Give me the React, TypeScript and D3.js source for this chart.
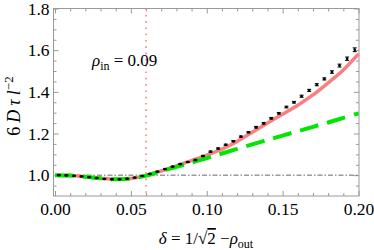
import { useEffect, useRef } from 'react';
import * as d3 from 'd3';

// theory curves
const curveX = [0, 0.01, 0.02, 0.03, 0.04, 0.05, 0.06, 0.07, 0.08, 0.09, 0.1, 0.11, 0.12, 0.13, 0.14, 0.15, 0.16, 0.17, 0.18, 0.19, 0.2];
const redY = [1.0, 0.998, 0.992, 0.985, 0.98, 0.984, 0.998, 1.02, 1.045, 1.07, 1.096, 1.125, 1.162, 1.206, 1.25, 1.293, 1.336, 1.385, 1.443, 1.505, 1.582];
const greenY = [1.0, 0.998, 0.992, 0.985, 0.98, 0.984, 0.998, 1.019, 1.04, 1.06, 1.082, 1.104, 1.126, 1.148, 1.169, 1.19, 1.211, 1.232, 1.253, 1.275, 1.297];

// simulation points with error bars
const pointX = [0.0025, 0.0075, 0.0125, 0.0175, 0.0225, 0.0275, 0.0325, 0.0375, 0.0425, 0.0475,
  0.0525, 0.0575, 0.0625, 0.0675, 0.0725, 0.0775, 0.0825, 0.0875, 0.0925, 0.0975,
  0.1025, 0.1075, 0.1125, 0.1175, 0.1225, 0.1275, 0.1325, 0.1375, 0.1425, 0.1475,
  0.1525, 0.1575, 0.1625, 0.1675, 0.1725, 0.1775, 0.1825, 0.1875, 0.1925, 0.1975];
const pointY = [1.0, 0.999, 0.997, 0.994, 0.99, 0.986, 0.982, 0.98, 0.98, 0.983,
  0.988, 0.996, 1.006, 1.017, 1.029, 1.041, 1.053, 1.063, 1.073, 1.092,
  1.113, 1.128, 1.146, 1.163, 1.185, 1.206, 1.23, 1.249, 1.273, 1.297,
  1.327, 1.35, 1.379, 1.407, 1.434, 1.462, 1.495, 1.526, 1.559, 1.602];
const pointErr = [0.002, 0.002, 0.002, 0.002, 0.002, 0.002, 0.002, 0.002, 0.002, 0.002,
  0.002, 0.002, 0.002, 0.002, 0.002, 0.002, 0.002, 0.002, 0.003, 0.003,
  0.003, 0.003, 0.003, 0.003, 0.003, 0.003, 0.004, 0.004, 0.004, 0.004,
  0.004, 0.004, 0.005, 0.005, 0.005, 0.005, 0.006, 0.007, 0.008, 0.009];

const xTicks = [0, 0.05, 0.1, 0.15, 0.2];
const xMinor = [0.01, 0.02, 0.03, 0.04, 0.06, 0.07, 0.08, 0.09, 0.11, 0.12, 0.13, 0.14, 0.16, 0.17, 0.18, 0.19];
const yTicks = [1.0, 1.2, 1.4, 1.6, 1.8];
const yMinor = [0.95, 1.05, 1.1, 1.15, 1.25, 1.3, 1.35, 1.45, 1.5, 1.55, 1.65, 1.7, 1.75];
const markerX = 0.06; // red dotted line
const refY = 1.0;     // dash-dot line

const W = 374, H = 250;
const FONT = '"Liberation Serif", "Times New Roman", Times, serif';
const frame = { left: 53.5, right: 359, top: 8.5, bottom: 196 };

const App = () => {
  const ref = useRef<SVGGElement>(null);

  useEffect(() => {
    if (!ref.current) return;
    const g = d3.select(ref.current);
    g.selectAll('*').remove();

    const x = d3.scaleLinear().domain([0, 0.2]).range([55, 358.5]);
    const y = d3.scaleLinear().domain([0.9, 1.8]).range([frame.bottom, frame.top]);

    const axisColor = '#999';
    const styleAxis = (sel: any) => {
      sel.attr('font-family', null).attr('font-size', null);
      sel.select('.domain').remove();
      sel.selectAll('line').attr('stroke', axisColor);
      sel.selectAll('text').style('font-family', FONT).style('font-size', '17.5px').attr('fill', '#000');
    };

    // bottom
    g.append('g').attr('transform', `translate(0,${frame.bottom})`)
      .call(d3.axisBottom(x).tickValues(xTicks).tickSize(-5).tickSizeOuter(0).tickPadding(7).tickFormat(d3.format('.2f')))
      .call(styleAxis);
    g.append('g').attr('transform', `translate(0,${frame.bottom})`)
      .call(d3.axisBottom(x).tickValues(xMinor).tickSize(-3).tickFormat(() => ''))
      .call(styleAxis);
    // top
    g.append('g').attr('transform', `translate(0,${frame.top})`)
      .call(d3.axisTop(x).tickValues(xTicks).tickSize(-5).tickFormat(() => ''))
      .call(styleAxis);
    g.append('g').attr('transform', `translate(0,${frame.top})`)
      .call(d3.axisTop(x).tickValues(xMinor).tickSize(-3).tickFormat(() => ''))
      .call(styleAxis);
    // left
    g.append('g').attr('transform', `translate(${frame.left},0)`)
      .call(d3.axisLeft(y).tickValues(yTicks).tickSize(-5).tickPadding(4).tickFormat(d3.format('.1f')))
      .call(styleAxis);
    g.append('g').attr('transform', `translate(${frame.left},0)`)
      .call(d3.axisLeft(y).tickValues(yMinor).tickSize(-3).tickFormat(() => ''))
      .call(styleAxis);
    // right
    g.append('g').attr('transform', `translate(${frame.right},0)`)
      .call(d3.axisRight(y).tickValues(yTicks).tickSize(-5).tickFormat(() => ''))
      .call(styleAxis);
    g.append('g').attr('transform', `translate(${frame.right},0)`)
      .call(d3.axisRight(y).tickValues(yMinor).tickSize(-3).tickFormat(() => ''))
      .call(styleAxis);

    g.append('rect')
      .attr('x', frame.left).attr('y', frame.top)
      .attr('width', frame.right - frame.left).attr('height', frame.bottom - frame.top)
      .attr('fill', 'none').attr('stroke', axisColor).attr('stroke-width', 1);

    // reference dash-dot line
    g.append('line')
      .attr('x1', x(0)).attr('x2', x(0.2)).attr('y1', y(refY)).attr('y2', y(refY))
      .attr('stroke', '#666').attr('stroke-width', 1).attr('stroke-dasharray', '5 2 1.5 2');

    const line = d3.line<number>().x((_, i) => x(curveX[i])).curve(d3.curveCatmullRom);

    g.append('path').attr('d', line.y(d => y(d))(redY))
      .attr('fill', 'none').attr('stroke', '#f88080').attr('stroke-width', 3.5);

    g.append('path').attr('d', line.y(d => y(d))(greenY))
      .attr('fill', 'none').attr('stroke', '#00e600').attr('stroke-width', 4)
      .attr('stroke-dasharray', '19 9');

    // points with error bars
    const pts = g.append('g').attr('stroke', '#000');
    pointX.forEach((px, i) => {
      const cx = x(px);
      const lo = y(pointY[i] - pointErr[i]);
      const hi = y(pointY[i] + pointErr[i]);
      pts.append('line').attr('x1', cx).attr('x2', cx).attr('y1', lo).attr('y2', hi).attr('stroke-width', 1);
      pts.append('line').attr('x1', cx - 2).attr('x2', cx + 2).attr('y1', lo).attr('y2', lo).attr('stroke-width', 1);
      pts.append('line').attr('x1', cx - 2).attr('x2', cx + 2).attr('y1', hi).attr('y2', hi).attr('stroke-width', 1);
      pts.append('circle').attr('cx', cx).attr('cy', y(pointY[i])).attr('r', 1.3).attr('fill', '#000').attr('stroke', 'none');
    });

    // vertical dotted marker
    g.append('line')
      .attr('x1', x(markerX)).attr('x2', x(markerX)).attr('y1', frame.top).attr('y2', frame.bottom)
      .attr('stroke', '#ff7f7f').attr('stroke-width', 1.6).attr('stroke-dasharray', '1.6 4.7');
  }, []);

  return (
    <svg width={W} height={H} style={{ position: 'absolute', left: 0, top: 0, background: '#fff', fontFamily: FONT }}>
      <g ref={ref} />
      <text transform="translate(20,106) rotate(-90)" textAnchor="middle" fontSize={18}>
        6<tspan dx={4} fontStyle="italic">D</tspan><tspan dx={4} fontStyle="italic">τ</tspan><tspan dx={4} fontStyle="italic">l</tspan>
        <tspan fontSize={13} dy={-7}>−2</tspan>
      </text>
      <text x={206} y={244} textAnchor="middle" fontSize={17}>
        <tspan fontStyle="italic">δ</tspan> = 1/√<tspan style={{ textDecoration: 'overline' }}>2</tspan> −<tspan fontStyle="italic">ρ</tspan>
        <tspan fontSize={12} dy={4}>out</tspan>
      </text>
      <text x={92} y={66} fontSize={17}>
        <tspan fontStyle="italic">ρ</tspan>
        <tspan fontSize={12} dy={4}>in</tspan>
        <tspan dy={-4}> = 0.09</tspan>
      </text>
    </svg>
  );
};

export default App;
